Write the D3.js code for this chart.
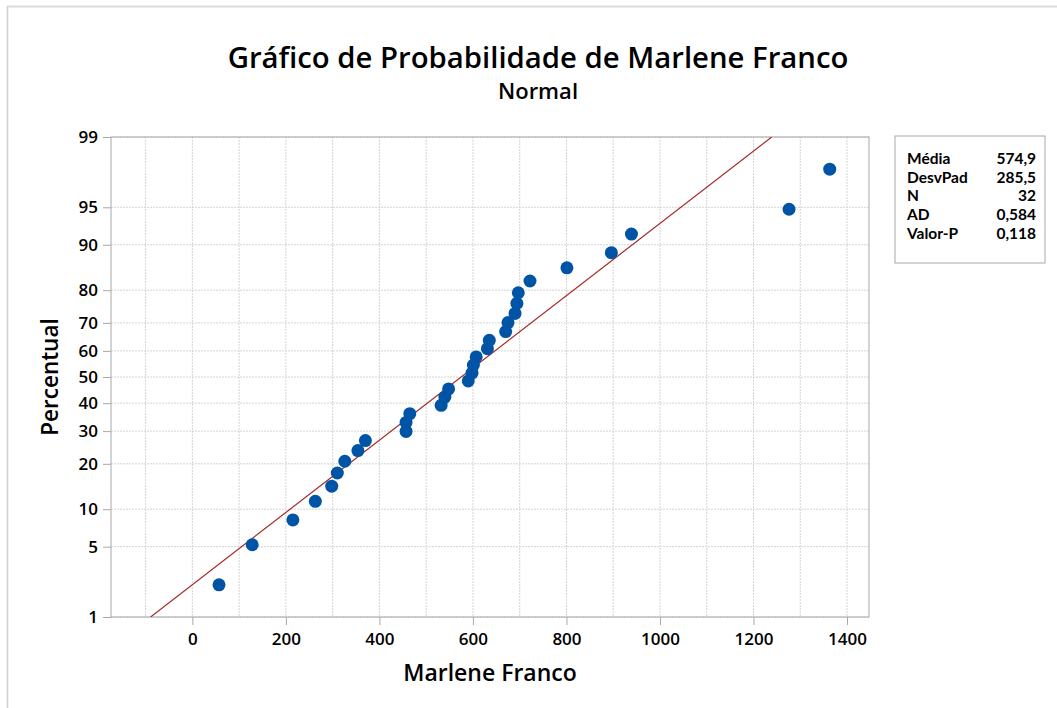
<!DOCTYPE html>
<html>
<head>
<meta charset="utf-8">
<script src="https://cdn.jsdelivr.net/npm/d3@7"></script>
<style>
  body { margin: 0; background: #fff; }
  svg { display: block; font-family: "Open Sans", "Noto Sans", sans-serif; }
</style>
</head>
<body>
<svg id="chart"></svg>
<script>
var width = 1057;
var height = 708;

// data
var values = [57, 128, 215, 263, 298, 310, 326, 354, 370, 457, 457, 465, 532, 540, 548, 590,
              598, 601, 607, 631, 635, 670, 675, 690, 694, 697, 722, 801, 896, 939, 1276, 1363];
var percents = [2.2, 5.2, 8.3, 11.4, 14.5, 17.6, 20.7, 23.8, 26.9, 29.9, 33.0, 36.1, 39.2, 42.3, 45.4, 48.5,
                51.5, 54.6, 57.7, 60.8, 63.9, 67.0, 70.1, 73.1, 76.2, 79.3, 82.4, 85.5, 88.6, 91.7, 94.8, 97.8];
var yTicks = [1, 5, 10, 20, 30, 40, 50, 60, 70, 80, 90, 95, 99];
var xTicks = [0, 200, 400, 600, 800, 1000, 1200, 1400];
var xGrid = [-100, 0, 100, 200, 300, 400, 500, 600, 700, 800, 900, 1000, 1100, 1200, 1300, 1400];
var statLabels = ["Média", "DesvPad", "N", "AD", "Valor-P"];
var statValues = ["574,9", "285,5", "32", "0,584", "0,118"];
var mean = 574.9;
var sd = 285.5;

var plot = {left: 111, right: 869, top: 137, bottom: 617};

// inverse normal cdf (Acklam)
function probit(p) {
    var a = [-3.969683028665376e+01, 2.209460984245205e+02, -2.759285104469687e+02, 1.383577518672690e+02, -3.066479806614716e+01, 2.506628277459239e+00];
    var b = [-5.447609879822406e+01, 1.615858368580409e+02, -1.556989798598866e+02, 6.680131188771972e+01, -1.328068155288572e+01];
    var c = [-7.784894002430293e-03, -3.223964580411365e-01, -2.400758277161838e+00, -2.549732539343734e+00, 4.374664141464968e+00, 2.938163982698783e+00];
    var d = [7.784695709041462e-03, 3.224671290700398e-01, 2.445134137142996e+00, 3.754408661907416e+00];
    var pl = 0.02425, q, r;
    if (p < pl) {
        q = Math.sqrt(-2 * Math.log(p));
        return (((((c[0]*q+c[1])*q+c[2])*q+c[3])*q+c[4])*q+c[5]) / ((((d[0]*q+d[1])*q+d[2])*q+d[3])*q+1);
    } else if (p <= 1 - pl) {
        q = p - 0.5; r = q * q;
        return (((((a[0]*r+a[1])*r+a[2])*r+a[3])*r+a[4])*r+a[5])*q / (((((b[0]*r+b[1])*r+b[2])*r+b[3])*r+b[4])*r+1);
    } else {
        q = Math.sqrt(-2 * Math.log(1 - p));
        return -(((((c[0]*q+c[1])*q+c[2])*q+c[3])*q+c[4])*q+c[5]) / ((((d[0]*q+d[1])*q+d[2])*q+d[3])*q+1);
    }
}

var zMin = probit(0.01), zMax = probit(0.99);

var x = d3.scaleLinear().domain([-174, 1447]).range([plot.left, plot.right]);
var yz = d3.scaleLinear().domain([zMin, zMax]).range([plot.bottom, plot.top]);
var y = function(pct) { return yz(probit(pct / 100)); };

var svg = d3.select("#chart").attr("width", width).attr("height", height);

// outer frame (top and left edges visible)
svg.append("line").attr("x1", 7).attr("x2", width).attr("y1", 6.5).attr("y2", 6.5)
    .attr("stroke", "#dcdcdc").attr("stroke-width", 2);
svg.append("line").attr("x1", 7.5).attr("x2", 7.5).attr("y1", 6).attr("y2", height)
    .attr("stroke", "#d0d0d0").attr("stroke-width", 1.5);

// titles
svg.append("text").attr("x", 538).attr("y", 68).attr("text-anchor", "middle")
    .attr("font-size", 29.3).attr("font-weight", 600).attr("fill", "#000")
    .text("Gráfico de Probabilidade de Marlene Franco");
svg.append("text").attr("x", 538).attr("y", 99).attr("text-anchor", "middle")
    .attr("font-size", 22).attr("font-weight", 600).attr("fill", "#000")
    .text("Normal");

// grid
var grid = svg.append("g");
grid.selectAll(".vg").data(xGrid).enter().append("line")
    .attr("x1", d => x(d)).attr("x2", d => x(d))
    .attr("y1", plot.top).attr("y2", plot.bottom)
    .attr("stroke", "#d4d4d4").attr("stroke-dasharray", "2,1");
grid.selectAll(".hg").data(yTicks).enter().append("line")
    .attr("x1", plot.left).attr("x2", plot.right)
    .attr("y1", d => y(d)).attr("y2", d => y(d))
    .attr("stroke", "#d4d4d4").attr("stroke-dasharray", "2,1");

// frame
svg.append("rect").attr("x", plot.left).attr("y", plot.top)
    .attr("width", plot.right - plot.left).attr("height", plot.bottom - plot.top)
    .attr("fill", "none").attr("stroke", "#a8a8a8").attr("stroke-width", 1);

// axes
var xAxis = svg.append("g").attr("transform", "translate(0," + plot.bottom + ")")
    .call(d3.axisBottom(x).tickValues(xTicks).tickSize(8).tickPadding(4).tickFormat(d3.format("d")));
var yAxis = svg.append("g").attr("transform", "translate(" + plot.left + ",0)")
    .call(d3.axisLeft(yz).tickValues(yTicks.map(d => probit(d / 100))).tickSize(8).tickPadding(5)
        .tickFormat((d, i) => yTicks[i]));
[xAxis, yAxis].forEach(function(a) {
    a.select(".domain").remove();
    a.selectAll(".tick line").attr("stroke", "#a8a8a8");
    a.selectAll(".tick text").attr("fill", "#000").attr("font-size", 17).attr("font-weight", 600)
        .attr("font-family", "'Open Sans', sans-serif");
});
xAxis.selectAll(".tick text").attr("dy", "0.95em");

// axis titles
svg.append("text").attr("x", (plot.left + plot.right) / 2).attr("y", 681).attr("text-anchor", "middle")
    .attr("font-size", 23).attr("font-weight", 600).attr("fill", "#000").text("Marlene Franco");
svg.append("text").attr("transform", "translate(58," + (plot.top + plot.bottom) / 2 + ") rotate(-90)")
    .attr("text-anchor", "middle")
    .attr("font-size", 22.5).attr("font-weight", 600).attr("fill", "#000").text("Percentual");

// fitted line
var clip = svg.append("clipPath").attr("id", "clip").append("rect")
    .attr("x", plot.left).attr("y", plot.top)
    .attr("width", plot.right - plot.left).attr("height", plot.bottom - plot.top);
svg.append("line").attr("clip-path", "url(#clip)")
    .attr("x1", x(mean + sd * zMin)).attr("y1", yz(zMin))
    .attr("x2", x(mean + sd * zMax)).attr("y2", yz(zMax))
    .attr("stroke", "#a52a2a").attr("stroke-width", 1.2);

// points
svg.append("g").selectAll("circle").data(values).enter().append("circle")
    .attr("cx", d => x(d)).attr("cy", (d, i) => y(percents[i]))
    .attr("r", 6.5).attr("fill", "#0054a6");

// stats box
var box = svg.append("g").attr("font-family", "Lato, 'Open Sans', sans-serif");
box.append("rect").attr("x", 895).attr("y", 136).attr("width", 150).attr("height", 127)
    .attr("fill", "#fff").attr("stroke", "#a8a8a8");
box.selectAll(".sl").data(statLabels).enter().append("text")
    .attr("x", 907).attr("y", (d, i) => 164 + i * 18.7)
    .attr("font-size", 15.5).attr("font-weight", 700).attr("fill", "#000").text(d => d);
box.selectAll(".sv").data(statValues).enter().append("text")
    .attr("x", 1036).attr("y", (d, i) => 164 + i * 18.7).attr("text-anchor", "end")
    .attr("font-size", 15.5).attr("font-weight", 700).attr("fill", "#000").text(d => d);
</script>
</body>
</html>
